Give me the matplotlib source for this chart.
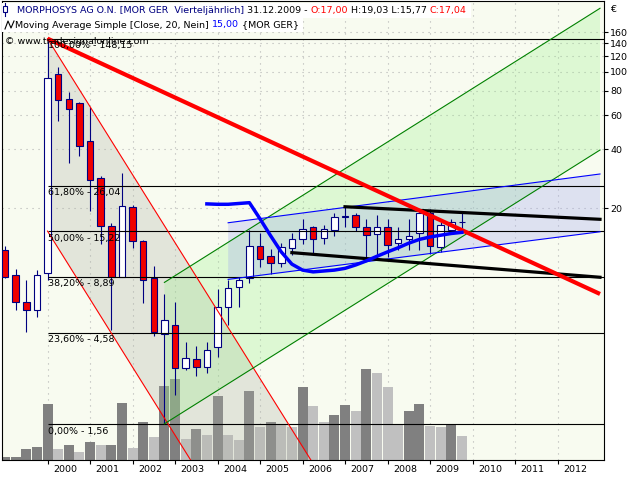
import matplotlib
matplotlib.use("Agg")
import matplotlib.pyplot as plt
from matplotlib.patches import Polygon, Rectangle
from matplotlib.lines import Line2D
from matplotlib.ticker import NullLocator
import numpy as np

plt.rcParams['font.family'] = ['DejaVu Sans']
plt.rcParams['font.size'] = 6.8

# quarterly candles MOR GER, Q1 1999 .. Q4 2009 (EUR)
opens = [12.2, 9.1, 6.6, 6.0, 9.3, 97.5, 72.2, 69.2, 44.0, 28.4, 16.1, 8.9,
         20.2, 13.6, 8.7, 4.5, 5.0, 3.0, 3.36, 3.04, 3.87, 6.2, 7.9, 8.7,
         12.8, 11.3, 10.5, 12.5, 13.8, 15.9, 14.1, 15.5, 18.0, 18.4, 16.0, 14.7,
         16.0, 13.2, 13.9, 14.9, 18.8, 12.6, 15.4, 17.00]
highs = [12.8, 9.7, 8.5, 9.6, 148.15, 105.6, 78.8, 70.3, 66.4, 29.3, 16.7, 30.3,
         20.7, 13.7, 10.1, 7.2, 6.6, 4.1, 3.9, 4.1, 7.66, 8.5, 8.9, 15.5,
         14.9, 12.3, 13.3, 14.8, 17.5, 16.2, 16.4, 18.8, 20.3, 18.9, 17.6, 18.4,
         17.5, 16.0, 17.6, 19.7, 19.7, 17.0, 17.6, 19.03]
lows = [8.7, 6.0, 4.6, 5.5, 8.5, 56.0, 34.0, 37.0, 19.2, 13.1, 4.73, 8.8,
        12.5, 6.5, 4.4, 1.56, 2.2, 2.93, 2.76, 2.84, 3.45, 5.0, 6.2, 8.2,
        9.9, 9.2, 9.9, 11.5, 13.1, 11.7, 13.1, 14.4, 16.0, 15.2, 10.8, 11.0,
        11.2, 12.2, 12.2, 12.2, 11.6, 11.9, 15.0, 15.77]
closes = [8.9, 6.6, 6.0, 9.1, 93.5, 71.7, 64.6, 41.8, 27.7, 16.1, 8.8, 20.5,
          13.6, 8.5, 4.6, 5.3, 3.0, 3.4, 3.04, 3.72, 6.2, 7.8, 8.5, 12.8,
          11.0, 10.4, 12.6, 13.8, 15.6, 13.9, 15.6, 18.0, 18.3, 16.0, 14.5, 16.0,
          12.9, 13.9, 14.4, 18.8, 12.8, 16.4, 17.0, 17.04]
volumes = [2.7, 3.3, 10.7, 13.3, 56.3, 11.3, 15, 8, 18.3, 15, 15.2, 57.3,
           12, 37.7, 23, 74, 81, 21, 31, 25, 64, 25, 20, 69,
           33, 37.7, 35, 33, 73, 54, 37.7, 45, 55, 49, 91, 87,
           73, 36, 49, 56, 34, 33, 36, 24]
# moving average (close, 20) from Q4 2003 on
ma20 = [21.0, 20.9, 20.9, 21.1, 21.3, 17.6, 14.4, 11.9, 10.3, 9.6, 9.4, 9.5,
        9.6, 9.8, 10.2, 10.7, 11.3, 11.9, 12.5, 13.2, 13.8, 14.2, 14.5, 14.8, 15.0]

fib_levels = [148.15, 26.04, 15.22, 8.89, 4.58, 1.56]
fib_labels = ['100,00% - 148,15', '61,80% - 26,04', '50,00% - 15,22',
              '38,20% - 8,89', '23,60% - 4,58', '0,00% - 1,56']

years = list(range(2000, 2013))
price_ticks = [20, 40, 60, 80, 100, 120, 140, 160]

# drawing tools: (time, price) end points
red_trend = ([2000.0, 2013.0], [148.15, 7.24])
gray_upper = ([2000.0, 2007.08], [148.15, 0.5])
gray_lower = ([2000.0, 2004.25], [15.22, 0.5])
green_lower = ([2002.75, 2013.0], [1.56, 39.7])
green_upper = ([2002.75, 2013.0], [8.3, 212.0])
blue_upper = ([2004.25, 2013.0], [16.8, 29.9])
blue_lower = ([2004.25, 2013.0], [8.6, 15.1])
black_upper = ([2007.0, 2013.0], [20.3, 17.5])
black_lower = ([2005.75, 2013.0], [11.8, 8.82])

NAVY = '#000080'
BG = '#F8FBF0'
x_left, x_right = 1998.929, 2013.094
y_bottom, y_top = 1.017, 231.1

t_q = 1999 + 0.25 * np.arange(len(closes))

fig = plt.figure(figsize=(6.4, 4.8), dpi=100)
pos = [2 / 640, 20 / 480, 602 / 640, 459 / 480]

# volume panel underneath
vax = fig.add_axes(pos, zorder=0)
vax.set_facecolor(BG)
vol_colors = ['#808080' if i == 0 or volumes[i] >= volumes[i - 1] else '#C0C0C0'
              for i in range(len(volumes))]
vax.bar(t_q, volumes, width=0.235, color=vol_colors, zorder=2)
vax.set_xlim(x_left, x_right)
vax.set_ylim(0, 458)
vax.set_xticks(years)
vax.set_yticks([])
vax.tick_params(length=0, labelbottom=False)
vax.set_axisbelow(True)
vax.grid(axis='x', color='#B4B4B4', linestyle=(0, (1, 4.4)), lw=0.8)
for sp in vax.spines.values():
    sp.set_visible(False)

# price panel
ax = fig.add_axes(pos, zorder=1)
ax.set_facecolor('none')
ax.set_yscale('log')

ax.add_patch(Polygon([(gray_upper[0][0], gray_upper[1][0]), (gray_upper[0][1], gray_upper[1][1]),
                      (gray_lower[0][1], gray_lower[1][1]), (gray_lower[0][0], gray_lower[1][0])],
                     closed=True, fc='#B0B4A8', alpha=0.3, ec='none', zorder=1))
ax.add_patch(Polygon([(green_lower[0][0], green_lower[1][0]), (green_lower[0][1], green_lower[1][1]),
                      (green_upper[0][1], green_upper[1][1]), (green_upper[0][0], green_upper[1][0])],
                     closed=True, fc='#90F080', alpha=0.25, ec='none', zorder=1.1))
ax.add_patch(Polygon([(blue_lower[0][0], blue_lower[1][0]), (blue_lower[0][1], blue_lower[1][1]),
                      (blue_upper[0][1], blue_upper[1][1]), (blue_upper[0][0], blue_upper[1][0])],
                     closed=True, fc='#A0A8F0', alpha=0.3, ec='none', zorder=1.2))

# candles
o = np.array(opens)
c = np.array(closes)
ax.vlines(t_q, lows, highs, color=NAVY, lw=0.8, zorder=3)
body_colors = ['white' if cc >= oo else '#F00000' for oo, cc in zip(o, c)]
ax.bar(t_q, np.abs(c - o), bottom=np.minimum(o, c), width=0.153,
       color=body_colors, edgecolor=NAVY, lw=0.8, zorder=3.1)

# fibonacci retracement
ax.hlines(fib_levels, 2000.0, x_right, color='black', lw=0.8, zorder=3.5)
for lvl, lbl in zip(fib_levels, fib_labels):
    ax.annotate(lbl, (2000.02, lvl), xytext=(0, -2), textcoords='offset points',
                ha='left', va='top', fontsize=6.8, zorder=6)

# thin channel lines
ax.plot(*gray_upper, color='#FF0000', lw=0.8, zorder=4)
ax.plot(*gray_lower, color='#FF0000', lw=0.8, zorder=4)
ax.plot(*green_upper, color='#008000', lw=0.8, zorder=4)
ax.plot(*green_lower, color='#008000', lw=0.8, zorder=4)
ax.plot(*blue_upper, color='#0000FF', lw=0.8, zorder=4)
ax.plot(*blue_lower, color='#0000FF', lw=0.8, zorder=4)

# thick trend lines and moving average
ax.plot(*black_upper, color='black', lw=2.3, zorder=4.5)
ax.plot(*black_lower, color='black', lw=2.3, zorder=4.5)
ax.plot(*red_trend, color='#FF0000', lw=3, zorder=4.6, solid_capstyle='butt')
ax.plot(t_q[len(t_q) - len(ma20):], ma20, color='#0000FF', lw=2.5, zorder=4.7)

ax.set_xlim(x_left, x_right)
ax.set_ylim(y_bottom, y_top)

ax.set_yticks(price_ticks, labels=[str(v) for v in price_ticks])
ax.yaxis.set_minor_locator(NullLocator())
ax.yaxis.tick_right()
ax.tick_params(axis='y', which='major', direction='out', length=3, width=0.8,
               pad=1.5, labelsize=6.8)
ax.set_xticks(years, labels=[''] * len(years))
ax.set_xticks([yr + 0.41 for yr in years], labels=[str(yr) for yr in years], minor=True)
ax.tick_params(axis='x', which='major', direction='out', length=3, width=0.8)
ax.tick_params(axis='x', which='minor', length=0, pad=3.5, labelsize=6.8)
ax.set_axisbelow(True)
ax.yaxis.grid(True, which='major', color='#B4B4B4', linestyle=(0, (1, 4.4)), lw=0.8)
for sp in ax.spines.values():
    sp.set_color('black')
    sp.set_linewidth(0.8)

# header
fig.canvas.draw()
renderer = fig.canvas.get_renderer()
space_px = 3.0


def draw_parts(x_px, y_px, parts):
    """Write coloured text pieces one after another on a white strip"""
    x = x_px
    for s, col in parts:
        x += (len(s) - len(s.lstrip(' '))) * space_px
        t = fig.text(x / 640, 1 - y_px / 480, s.strip(' '), color=col,
                     ha='left', va='center', fontsize=6.8, zorder=10)
        bb = t.get_window_extent(renderer=renderer)
        x = bb.x1 + (len(s) - len(s.rstrip(' '))) * space_px
    fig.add_artist(Rectangle((1.5 / 640, 1 - (y_px + 7) / 480), (x + 3) / 640, 14 / 480,
                             fc='white', ec='none', zorder=9))


draw_parts(17, 10.5, [('MORPHOSYS AG O.N. [MOR GER  Vierteljährlich]', NAVY),
                      (' 31.12.2009 - ', 'black'), ('O:17,00', '#FF0000'),
                      (' H:19,03 L:15,77 ', 'black'), ('C:17,04', '#FF0000')])
draw_parts(15, 25, [('Moving Average Simple [Close, 20, Nein] ', 'black'),
                    ('15,00', '#0000FF'), (' {MOR GER}', 'black')])
fig.text(5 / 640, 1 - 41 / 480, '© www.tradesignalonline.com', ha='left',
         va='center', fontsize=6.8, zorder=10)
fig.text(610 / 640, 1 - 10 / 480, '€', ha='left', va='center', fontsize=6.8)

# legend icons
fig.add_artist(Line2D([4.5 / 640, 4.5 / 640], [1 - 3 / 480, 1 - 16 / 480], color=NAVY, lw=0.8, zorder=11))
fig.add_artist(Rectangle((2.5 / 640, 1 - 12 / 480), 4 / 640, 6 / 480, fc='white', ec=NAVY, lw=0.8, zorder=11))
fig.add_artist(Line2D(np.array([5, 8, 11, 14]) / 640, 1 - np.array([29, 21, 28, 21]) / 480,
                      color='black', lw=0.8, zorder=11))

fig.savefig('out.png', dpi=100, facecolor='white')
